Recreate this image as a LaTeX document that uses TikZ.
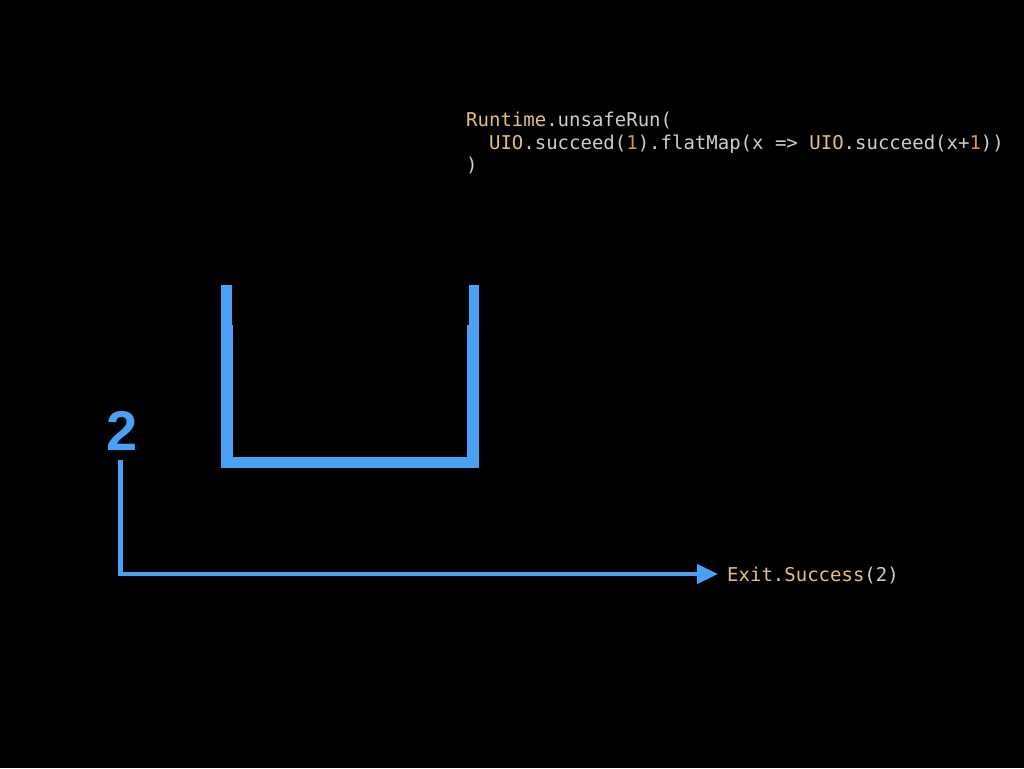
\documentclass[tikz,border=0pt]{standalone}
\usepackage{fontspec}
\setsansfont{Liberation Sans}
\setmonofont{DejaVu Sans Mono}
\usetikzlibrary{arrows.meta}

\definecolor{cupblue}{RGB}{74,160,245}
\definecolor{codegray}{RGB}{205,205,205}
\definecolor{codegold}{RGB}{226,192,125}
\definecolor{codenum}{RGB}{217,150,90}

\newcommand{\kw}[1]{\textcolor{codegold}{#1}}
\newcommand{\nm}[1]{\textcolor{codenum}{#1}}

\begin{document}
\begin{tikzpicture}[
    x=1pt, y=-1pt,
    % code lines and the result share one look
    code/.style={anchor=base west, inner sep=0pt, text=codegray,
                 font=\ttfamily\fontsize{19}{22}\selectfont},
    wall/.style={fill=cupblue, draw=none},
    link/.style={draw=cupblue, line width=4.5pt,
                 -{Triangle[length=21pt, width=19pt]}}
]
    % --- Canvas ---
    \fill[black] (0,0) rectangle (1024,768);
    \useasboundingbox (0,0) rectangle (1024,768);

    % --- The program ---
    \node[code] (line1) at (466,126.5) {\kw{Runtime}.unsafeRun(};
    \node[code] (line2) at (466,149)
        {\ \ \kw{UIO}.succeed(\nm{1}).flatMap(x => \kw{UIO}.succeed(x+\nm{1}))};
    \node[code] (line3) at (466,171.5) {)};

    % --- Corners of the cup ---
    \coordinate (LTop) at (221,285);
    \coordinate (LBot) at (232.5,467.5);
    \coordinate (RTop) at (478.5,285);
    \coordinate (RBot) at (467,467.5);

    % Draw the cup walls, with the small step near the top
    \fill[wall] (LTop) rectangle (231.5,325);
    \fill[wall] (221,325) rectangle (232.5,467.5);
    \fill[wall] (468.5,285) rectangle (RTop |- 0,325);
    \fill[wall] (RBot |- 0,325) rectangle (478.5,467.5);
    % the bottom of the cup
    \fill[wall] (221,456.5) rectangle (478.5,467.5);

    % --- The value that falls out ---
    \node[text=cupblue, inner sep=0pt, anchor=base,
          font=\sffamily\bfseries\fontsize{56}{56}\selectfont]
        (num) at (122,450) {2};

    \node[code, anchor=west] (exit) at (727,576)
        {\kw{Exit}.\kw{Success}(2)};

    % --- Arrow from the value to the exit ---
    \draw[link] ([xshift=-1.5pt, yshift=-10pt]num.south) |- ([xshift=-9pt, yshift=2pt]exit.west);
\end{tikzpicture}
\end{document}
